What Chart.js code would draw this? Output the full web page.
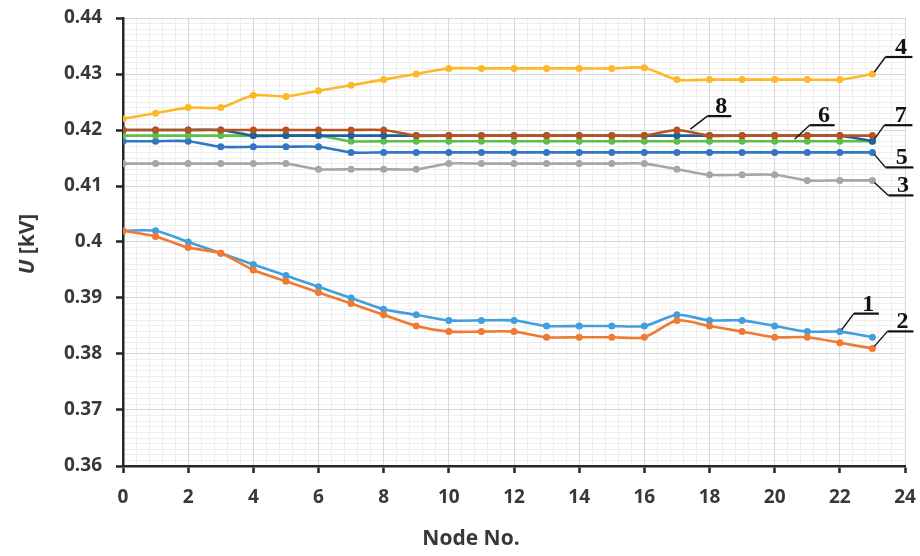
<!DOCTYPE html>
<html>
<head>
<meta charset="utf-8">
<script src="https://cdn.jsdelivr.net/npm/chart.js@4.4.1/dist/chart.umd.min.js"></script>
<style>
  html, body { margin: 0; padding: 0; background: #fff; }
  #wrap { width: 920px; height: 556px; position: relative; }
</style>
</head>
<body>
<div id="wrap"><canvas id="myChart"></canvas></div>
<script>
// node numbers along the feeder
const nodes = [0, 1, 2, 3, 4, 5, 6, 7, 8, 9, 10, 11, 12, 13, 14, 15, 16, 17, 18, 19, 20, 21, 22, 23];

// voltage profiles, kV
const u1 = [0.402, 0.402, 0.400, 0.398, 0.396, 0.394, 0.392, 0.390, 0.388, 0.387, 0.386, 0.386, 0.386, 0.385, 0.385, 0.385, 0.385, 0.387, 0.386, 0.386, 0.385, 0.384, 0.384, 0.383];
const u2 = [0.402, 0.401, 0.399, 0.398, 0.395, 0.393, 0.391, 0.389, 0.387, 0.385, 0.384, 0.384, 0.384, 0.383, 0.383, 0.383, 0.383, 0.386, 0.385, 0.384, 0.383, 0.383, 0.382, 0.381];
const u3 = [0.414, 0.414, 0.414, 0.414, 0.414, 0.414, 0.413, 0.413, 0.413, 0.413, 0.414, 0.414, 0.414, 0.414, 0.414, 0.414, 0.414, 0.413, 0.412, 0.412, 0.412, 0.411, 0.411, 0.411];
const u4 = [0.422, 0.423, 0.424, 0.424, 0.4262, 0.426, 0.427, 0.428, 0.429, 0.430, 0.431, 0.431, 0.431, 0.431, 0.431, 0.431, 0.4311, 0.429, 0.429, 0.429, 0.429, 0.429, 0.429, 0.430];
const u5 = [0.418, 0.418, 0.418, 0.417, 0.417, 0.417, 0.417, 0.416, 0.416, 0.416, 0.416, 0.416, 0.416, 0.416, 0.416, 0.416, 0.416, 0.416, 0.416, 0.416, 0.416, 0.416, 0.416, 0.416];
const u6 = [0.419, 0.419, 0.419, 0.419, 0.419, 0.419, 0.419, 0.418, 0.418, 0.418, 0.418, 0.418, 0.418, 0.418, 0.418, 0.418, 0.418, 0.418, 0.418, 0.418, 0.418, 0.418, 0.418, 0.418];
const u7 = [0.420, 0.420, 0.420, 0.420, 0.419, 0.419, 0.419, 0.419, 0.419, 0.419, 0.419, 0.419, 0.419, 0.419, 0.419, 0.419, 0.419, 0.419, 0.419, 0.419, 0.419, 0.419, 0.419, 0.418];
const u8 = [0.420, 0.420, 0.420, 0.420, 0.420, 0.420, 0.420, 0.420, 0.420, 0.419, 0.419, 0.419, 0.419, 0.419, 0.419, 0.419, 0.419, 0.420, 0.419, 0.419, 0.419, 0.419, 0.419, 0.419];

const seriesNames = ["1", "2", "3", "4", "5", "6", "7", "8"];
const seriesValues = [u1, u2, u3, u4, u5, u6, u7, u8];
const seriesColors = ["#41A0DC", "#F07A32", "#A6A6A6", "#FDB827", "#3176C2", "#5CBF4A", "#1E5F9E", "#B8521F"];

// y-axis tick labels 0.36 .. 0.44
const yTicks = [0.36, 0.37, 0.38, 0.39, 0.40, 0.41, 0.42, 0.43, 0.44];
const xTicks = [0, 2, 4, 6, 8, 10, 12, 14, 16, 18, 20, 22, 24];

// leader-line labels: anchor in data units, elbow offset in px, underline length
const callouts = [
  { text: "1", x: 22, y: u1[22], dx: 14, dy: -18, len: 25 },
  { text: "2", x: 23, y: u2[23], dx: 15, dy: -17, len: 26 },
  { text: "3", x: 23, y: u3[23], dx: 16, dy: 15, len: 25 },
  { text: "4", x: 23, y: u4[23], dx: 13, dy: -17, len: 27 },
  { text: "5", x: 23, y: u5[23], dx: 13, dy: 15, len: 28 },
  { text: "6", x: 20.55, y: u6[20], dx: 17, dy: -16, len: 25 },
  { text: "7", x: 23, y: u7[23], dx: 12, dy: -16, len: 28 },
  { text: "8", x: 17.35, y: 0.4198, dx: 19, dy: -15, len: 24 }
];

const tickFont = { family: "'Open Sans', sans-serif", size: 19, weight: "bold" };
const textColor = "#383838";

const datasets = seriesValues.map((vals, i) => ({
  label: seriesNames[i],
  data: nodes.map((n, j) => ({ x: n, y: vals[j] })),
  borderColor: seriesColors[i],
  backgroundColor: seriesColors[i],
  pointBackgroundColor: seriesColors[i],
  pointBorderWidth: 0,
  pointRadius: 3.5,
  borderWidth: 2.6,
  tension: 0.25,
  order: 8 - i,
  xAxisID: "x",
  yAxisID: "y"
}));

// draw titles and numbered leader labels
const decorPlugin = {
  id: "decor",
  afterDatasetsDraw(chart) {
    const ctx = chart.ctx;
    const xs = chart.scales.x, ys = chart.scales.y;
    ctx.save();
    callouts.forEach(c => {
      const px = xs.getPixelForValue(c.x);
      const py = ys.getPixelForValue(c.y);
      const ex = px + c.dx, ey = py + c.dy;
      ctx.strokeStyle = "#111";
      ctx.lineWidth = 1.4;
      ctx.beginPath();
      ctx.moveTo(px + 2, py + (c.dy > 0 ? 2 : -2));
      ctx.lineTo(ex, ey);
      ctx.stroke();
      ctx.lineWidth = 2.2;
      ctx.beginPath();
      ctx.moveTo(ex, ey);
      ctx.lineTo(ex + c.len, ey);
      ctx.stroke();
      ctx.fillStyle = "#111";
      ctx.font = "bold 24px 'Liberation Serif', 'Times New Roman', serif";
      ctx.textAlign = "center";
      ctx.textBaseline = "alphabetic";
      ctx.fillText(c.text, ex + c.len * 0.58, ey - 3);
    });
    ctx.restore();
  },
  afterDraw(chart) {
    const ctx = chart.ctx;
    ctx.save();
    ctx.fillStyle = textColor;
    // x title
    ctx.font = "bold 21px 'Open Sans', sans-serif";
    ctx.textAlign = "center";
    ctx.textBaseline = "middle";
    ctx.fillText("Node No.", 471, 539);
    // y title, italic U
    ctx.translate(28, 244);
    ctx.rotate(-Math.PI / 2);
    const fItal = "italic bold 21px 'Open Sans', sans-serif";
    const fNorm = "bold 21px 'Open Sans', sans-serif";
    ctx.font = fItal;
    const w1 = ctx.measureText("U").width;
    ctx.font = fNorm;
    const w2 = ctx.measureText(" [kV]").width;
    const start = -(w1 + w2) / 2;
    ctx.textAlign = "left";
    ctx.font = fItal;
    ctx.fillText("U", start, 0);
    ctx.font = fNorm;
    ctx.fillText(" [kV]", start + w1, 0);
    ctx.restore();
  }
};

const ctx = document.getElementById("myChart").getContext("2d");
const myChart = new Chart(ctx, {
  type: "line",
  data: { datasets: datasets },
  plugins: [decorPlugin],
  options: {
    responsive: true,
    maintainAspectRatio: false,
    animation: false,
    layout: { padding: { top: 18, right: 15, left: 0, bottom: 0 } },
    plugins: {
      legend: { display: false },
      tooltip: { enabled: false },
      title: { display: false }
    },
    scales: {
      xMinor: {
        type: "linear", position: "bottom", min: 0, max: 24, z: -1,
        ticks: { display: false, stepSize: 0.4 },
        grid: { color: "#EEEEEE", lineWidth: 1, drawTicks: false },
        border: { display: false },
        afterFit: s => { s.height = 0; s.paddingLeft = 0; s.paddingRight = 0; }
      },
      yMinor: {
        type: "linear", position: "left", min: 0.36, max: 0.44, z: -1,
        ticks: { display: false, stepSize: 0.001 },
        grid: { color: "#EEEEEE", lineWidth: 1, drawTicks: false },
        border: { display: false },
        afterFit: s => { s.width = 0; s.paddingTop = 0; s.paddingBottom = 0; }
      },
      x: {
        type: "linear", position: "bottom", min: xTicks[0], max: xTicks[xTicks.length - 1],
        ticks: { stepSize: 2, padding: 13, font: tickFont, color: textColor, maxRotation: 0, autoSkip: false },
        grid: { color: "#D6D6D6", lineWidth: 1, tickLength: 7, tickColor: "#262626", tickWidth: 2.5 },
        border: { color: "#262626", width: 2.5 },
        afterFit: s => { s.height = 90; s.paddingLeft = 0; s.paddingRight = 0; }
      },
      y: {
        type: "linear", position: "left", min: yTicks[0], max: yTicks[yTicks.length - 1],
        ticks: {
          stepSize: 0.01, padding: 14, font: tickFont, color: textColor,
          callback: v => String(parseFloat(v.toFixed(2)))
        },
        grid: { color: "#D6D6D6", lineWidth: 1, tickLength: 7, tickColor: "#262626", tickWidth: 2.5 },
        border: { color: "#262626", width: 2.5 },
        afterFit: s => { s.width = 123; s.paddingTop = 0; s.paddingBottom = 0; }
      }
    }
  }
});
</script>
</body>
</html>
